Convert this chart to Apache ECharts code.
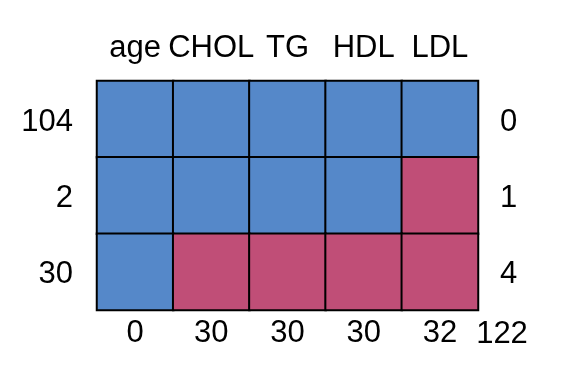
<!DOCTYPE html>
<html>
<head>
<meta charset="utf-8">
<script src="https://cdn.jsdelivr.net/npm/echarts@6/dist/echarts.min.js"></script>
<style>html,body{margin:0;padding:0;background:#fff}#c{width:576px;height:391px}</style>
</head>
<body>
<div id="c"></div>
<script>
var variables = ['age', 'CHOL', 'TG', 'HDL', 'LDL'];
var rowCounts = ['104', '2', '30'];
var rowMissing = ['0', '1', '4'];
var colMissing = ['0', '30', '30', '30', '32'];
var totalMissing = '122';
// 1 = observed, 0 = missing
var pattern = [
  [1, 1, 1, 1, 1],
  [1, 1, 1, 1, 0],
  [1, 0, 0, 0, 0]
];

var data = [];
pattern.forEach(function (row, r) {
  row.forEach(function (v, c) { data.push([c, r, v]); });
});

var FONT = 'Liberation Sans, Arial, sans-serif';
var FS = 31;
var richY = { a: { fontSize: FS, fontFamily: FONT, color: '#000', padding: [6, 0, 0, 0] } };
function fmtY(v) { return '{a|' + v + '}'; }
var chart = echarts.init(document.getElementById('c'));
chart.setOption({
  animation: false,
  backgroundColor: '#fff',
  grid: { left: 97, right: 98, top: 81, bottom: 81 },
  xAxis: [
    { type: 'category', position: 'top', data: variables,
      axisLine: { show: false }, axisTick: { show: false }, splitLine: { show: false },
      axisLabel: { interval: 0, color: '#000', fontSize: FS, fontFamily: FONT, margin: 17 } },
    { type: 'category', position: 'bottom', data: colMissing,
      axisLine: { show: false }, axisTick: { show: false }, splitLine: { show: false },
      axisLabel: { interval: 0, color: '#000', fontSize: FS, fontFamily: FONT, margin: 8 } }
  ],
  yAxis: [
    { type: 'category', position: 'left', inverse: true, data: rowCounts,
      axisLine: { show: false }, axisTick: { show: false }, splitLine: { show: false },
      axisLabel: { interval: 0, formatter: fmtY, rich: richY, margin: 24 } },
    { type: 'category', position: 'right', inverse: true, data: rowMissing,
      axisLine: { show: false }, axisTick: { show: false }, splitLine: { show: false },
      axisLabel: { interval: 0, formatter: fmtY, rich: richY, margin: 22, align: 'left' } }
  ],
  visualMap: {
    type: 'piecewise', show: false, dimension: 2,
    pieces: [ { value: 0, color: '#C04E77' }, { value: 1, color: '#5588C9' } ]
  },
  series: [{
    type: 'heatmap', xAxisIndex: 0, yAxisIndex: 0, data: data,
    itemStyle: { borderColor: '#000', borderWidth: 2 },
    emphasis: { disabled: true }, label: { show: false }
  }],
  graphic: [{
    type: 'text', x: 502, y: 334,
    style: { text: totalMissing, fill: '#000', font: FS + 'px ' + FONT, align: 'center', verticalAlign: 'middle' }
  }]
});
</script>
</body>
</html>
